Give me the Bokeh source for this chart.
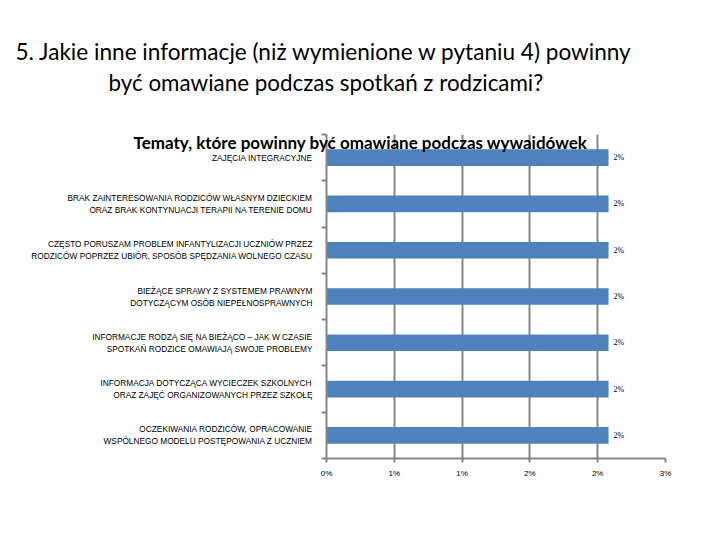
from bokeh.plotting import figure
from bokeh.models import ColumnDataSource, Range1d, FixedTicker, LabelSet, Title
from bokeh.embed import file_html
from bokeh.resources import INLINE

# ---- data ----
categories = [
    "ZAJĘCIA INTEGRACYJNE",
    "BRAK ZAINTERESOWANIA RODZICÓW WŁASNYM DZIECKIEM\nORAZ BRAK KONTYNUACJI TERAPII NA TERENIE DOMU",
    "CZĘSTO PORUSZAM PROBLEM INFANTYLIZACJI UCZNIÓW PRZEZ\nRODZICÓW POPRZEZ UBIÓR, SPOSÓB SPĘDZANIA WOLNEGO CZASU",
    "BIEŻĄCE SPRAWY Z SYSTEMEM PRAWNYM\nDOTYCZĄCYM OSÓB NIEPEŁNOSPRAWNYCH",
    "INFORMACJE RODZĄ SIĘ NA BIEŻĄCO – JAK W CZASIE\nSPOTKAŃ RODZICE OMAWIAJĄ SWOJE PROBLEMY",
    "INFORMACJA DOTYCZĄCA WYCIECZEK SZKOLNYCH\nORAZ ZAJĘĆ ORGANIZOWANYCH PRZEZ SZKOŁĘ",
    "OCZEKIWANIA RODZICÓW, OPRACOWANIE\nWSPÓLNEGO MODELU POSTĘPOWANIA Z UCZNIEM",
]
values = [2.08, 2.08, 2.08, 2.08, 2.08, 2.08, 2.08]
value_labels = ["2%", "2%", "2%", "2%", "2%", "2%", "2%"]
x_ticks = [0, 0.5, 1.0, 1.5, 2.0, 2.5]
x_tick_labels = ["0%", "1%", "1%", "2%", "2%", "3%"]
heading_lines = [
    "5.  Jakie inne informacje (niż wymienione w pytaniu 4) powinny",
    "być omawiane podczas spotkań z rodzicami?",
]
chart_title = "Tematy, które powinny być omawiane podczas wywaidówek"

n = len(categories)
ypos = [i + 0.5 for i in range(n)]
source = ColumnDataSource(dict(y=ypos, v=values, lab=value_labels, cat=categories))

GRAY = "#878787"

p = figure(width=704, height=524, output_backend="svg", toolbar_location=None, title=None,
           x_range=Range1d(0, 2.5), y_range=Range1d(n, 0),
           min_border_left=326, min_border_right=39, min_border_top=134, min_border_bottom=66)
p.outline_line_color = None
p.background_fill_color = "white"

p.hbar(y="y", right="v", left=0, height=0.36, source=source,
       fill_color="#4F81BD", line_color=None)

labels = LabelSet(x="v", y="y", text="lab", source=source, x_offset=5,
                  text_font="Liberation Sans", text_font_size="8px",
                  text_baseline="middle", text_align="left", text_color="#000000")
p.add_layout(labels)

# x axis
p.xaxis.ticker = FixedTicker(ticks=x_ticks)
p.xaxis.major_label_overrides = {t: l for t, l in zip(x_ticks, x_tick_labels)}
p.xaxis.axis_line_color = GRAY
p.xaxis.axis_line_width = 2
p.xaxis.major_tick_line_color = GRAY
p.xaxis.major_tick_line_width = 2
p.xaxis.major_tick_in = 0
p.xaxis.major_tick_out = 4
p.xaxis.minor_tick_line_color = None
p.xaxis.major_label_text_font = "Liberation Sans"
p.xaxis.major_label_text_font_size = "8px"
p.xaxis.major_label_text_color = "#000000"
p.xaxis.major_label_standoff = 6

# y axis
p.yaxis.ticker = FixedTicker(ticks=ypos, minor_ticks=list(range(n + 1)))
p.yaxis.major_label_overrides = {y: c for y, c in zip(ypos, categories)}
p.yaxis.axis_line_color = GRAY
p.yaxis.axis_line_width = 2
p.yaxis.major_tick_line_color = None
p.yaxis.minor_tick_line_color = GRAY
p.yaxis.minor_tick_line_width = 2
p.yaxis.minor_tick_in = 0
p.yaxis.minor_tick_out = 5
p.yaxis.major_label_text_font = "Liberation Sans"
p.yaxis.major_label_text_font_size = "8.3px"
p.yaxis.major_label_text_color = "#000000"
p.yaxis.major_label_text_align = "center"
p.yaxis.major_label_standoff = 8

p.xgrid.ticker = FixedTicker(ticks=x_ticks)
p.xgrid.grid_line_color = GRAY
p.xgrid.grid_line_width = 2
p.ygrid.grid_line_color = None

# titles (list order: closest to frame first)
tc = Title(text=chart_title, text_font="Lato", text_font_size="17px",
           text_font_style="bold", text_color="#000000", align="left", offset=-193, standoff=-36)
t2 = Title(text=heading_lines[1], text_font="Lato", text_font_size="22.4px",
           text_font_style="normal", text_color="#000000", align="left", offset=-218, standoff=77)
t1 = Title(text=heading_lines[0], text_font="Lato", text_font_size="22.6px",
           text_font_style="normal", text_color="#000000", align="left", offset=-311, standoff=-72)
p.add_layout(tc, "above")
p.add_layout(t2, "above")
p.add_layout(t1, "above")

open("out.html", "w").write(file_html(p, INLINE))
